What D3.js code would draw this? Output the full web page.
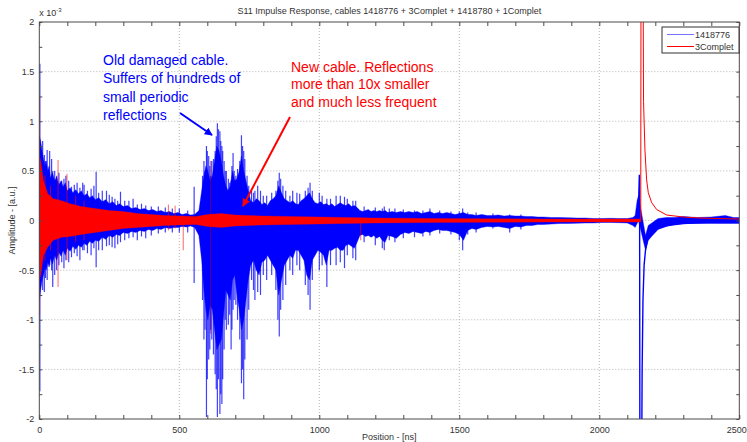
<!DOCTYPE html>
<html>
<head>
<meta charset="utf-8">
<script src="https://cdn.jsdelivr.net/npm/d3@7"></script>
<style>
  html, body { margin: 0; padding: 0; background: #fff; }
  svg { display: block; font-family: "Liberation Sans", Arial, sans-serif; }
</style>
</head>
<body>
<div id="chart"></div>
<script>
// values in units of 1e-3, time in ns; envelope of the dense blue trace
const blueT  = [0, 5, 10, 15, 20, 25, 30, 35, 40, 47, 55, 62, 70, 78, 85, 93, 100, 110, 120, 130, 140, 150, 160, 170, 180, 190, 200, 212, 225, 237, 250, 262, 275, 287, 300, 315, 330, 345, 360, 375, 390, 405, 420, 435, 450, 465, 480, 495, 510, 525, 540, 555, 570,
  580, 588, 595, 602, 610, 618, 626, 634, 642, 650, 658, 666, 674, 682, 690, 698, 706, 714, 722, 730, 738, 746, 755, 765, 775, 785, 795, 805, 815, 825, 835, 845, 855, 865, 875, 885, 895, 905, 915, 925, 935, 945, 955, 965, 975, 985, 995, 1005, 1015, 1025, 1035, 1045, 1055, 1065, 1075, 1085, 1095, 1105, 1115, 1125, 1135,
  1145, 1155, 1165, 1175, 1185, 1195, 1205, 1215, 1225, 1235, 1245, 1260, 1275, 1290, 1305, 1320, 1335, 1350, 1365, 1380, 1395, 1410, 1425, 1440, 1455, 1470, 1485, 1500, 1515, 1530, 1545, 1560, 1580, 1600, 1620, 1640, 1660, 1680, 1700, 1720, 1740, 1760, 1780, 1800, 1830, 1860, 1890, 1920, 1950, 1980, 2010, 2040, 2070, 2100, 2120, 2128, 2135, 2140,
  2165, 2175, 2190, 2210, 2240, 2270, 2300, 2350, 2400, 2450, 2480, 2500];
const blueHi = [0.85, 0.8, 0.7, 0.62, 0.55, 0.6, 0.5, 0.55, 0.43, 0.48, 0.4, 0.44, 0.36, 0.4, 0.34, 0.38, 0.3, 0.33, 0.28, 0.31, 0.27, 0.3, 0.25, 0.27, 0.23, 0.25, 0.21, 0.23, 0.19, 0.21, 0.17, 0.19, 0.15, 0.17, 0.14, 0.15, 0.12, 0.13, 0.11, 0.12, 0.1, 0.11, 0.09, 0.1, 0.08, 0.09, 0.07, 0.08, 0.06, 0.07, 0.055, 0.06, 0.1,
  0.3, 0.45, 0.55, 0.5, 0.4, 0.45, 0.6, 0.75, 0.7, 0.6, 0.45, 0.35, 0.3, 0.35, 0.5, 0.4, 0.42, 0.5, 0.65, 0.5, 0.4, 0.3, 0.2, 0.18, 0.22, 0.2, 0.16, 0.18, 0.15, 0.2, 0.22, 0.25, 0.35, 0.28, 0.22, 0.2, 0.18, 0.2, 0.17, 0.16, 0.2, 0.22, 0.25, 0.28, 0.22, 0.18, 0.17, 0.19, 0.16, 0.17, 0.15, 0.17, 0.14, 0.16, 0.18, 0.16, 0.15, 0.17, 0.14, 0.15, 0.13,
  0.1, 0.09, 0.1, 0.11, 0.09, 0.1, 0.09, 0.1, 0.09, 0.1, 0.08, 0.09, 0.08, 0.09, 0.08, 0.09, 0.08, 0.09, 0.07, 0.08, 0.09, 0.07, 0.08, 0.07, 0.08, 0.07, 0.06, 0.07, 0.08, 0.06, 0.06, 0.05, 0.06, 0.05, 0.05, 0.055, 0.045, 0.05, 0.045, 0.045, 0.04, 0.04, 0.035, 0.035, 0.03, 0.03, 0.028, 0.025, 0.025, 0.02, 0.02, 0.022, 0.02, 0.02, 0.03, 0.05, 0.2, 0.25,
  -0.15, -0.05, -0.02, 0.02, 0.03, 0.03, 0.04, 0.03, 0.035, 0.05, 0.03, 0.03];
const blueLo = [-0.8, -0.7, -0.6, -0.55, -0.48, -0.5, -0.42, -0.47, -0.38, -0.44, -0.35, -0.4, -0.32, -0.36, -0.3, -0.35, -0.28, -0.31, -0.26, -0.29, -0.25, -0.27, -0.23, -0.25, -0.21, -0.23, -0.2, -0.21, -0.17, -0.19, -0.15, -0.17, -0.14, -0.15, -0.12, -0.13, -0.11, -0.12, -0.1, -0.11, -0.09, -0.1, -0.08, -0.09, -0.07, -0.08, -0.07, -0.07, -0.06, -0.065, -0.055, -0.07, -0.15,
  -0.4, -0.7, -0.9, -1.0, -0.85, -0.9, -1.1, -1.3, -1.25, -1.2, -0.95, -0.7, -0.75, -0.8, -0.6, -0.55, -0.75, -0.9, -1.1, -1.0, -0.8, -0.6, -0.45, -0.4, -0.5, -0.55, -0.42, -0.4, -0.35, -0.4, -0.45, -0.5, -0.75, -0.6, -0.45, -0.4, -0.35, -0.38, -0.3, -0.3, -0.35, -0.4, -0.55, -0.6, -0.4, -0.35, -0.3, -0.32, -0.35, -0.45, -0.3, -0.3, -0.28, -0.27, -0.3, -0.3, -0.25, -0.24, -0.26, -0.28, -0.22,
  -0.15, -0.14, -0.16, -0.15, -0.17, -0.15, -0.18, -0.16, -0.2, -0.22, -0.15, -0.16, -0.18, -0.14, -0.12, -0.13, -0.11, -0.12, -0.13, -0.11, -0.12, -0.1, -0.09, -0.1, -0.1, -0.11, -0.12, -0.14, -0.2, -0.1, -0.08, -0.09, -0.07, -0.06, -0.065, -0.06, -0.07, -0.08, -0.06, -0.065, -0.05, -0.05, -0.04, -0.04, -0.035, -0.03, -0.03, -0.028, -0.025, -0.025, -0.02, -0.02, -0.022, -0.025, -0.05, -0.07, -0.03, 0,
  -0.3, -0.2, -0.15, -0.09, -0.06, -0.04, -0.03, -0.03, -0.03, -0.03, -0.03, -0.03];

// single reflections of the blue trace sticking out of the envelope: [t, top, bottom]
const blueSpikes = [[2, 1.58, -1.72], [12, 0.8, -0.7], [18, 0.66, -0.72], [22, 0.6, -0.58], [28, 0.71, -0.6], [37, 0.7, -0.45], [44, 0.62, -0.5], [48, 0.5, -0.67], [55, 0.5, -0.55], [62, 0.45, -0.5], [70, 0.48, -0.45], [80, 0.4, -0.42], [88, 0.42, -0.48], [95, 0.45, -0.4], [105, 0.4, -0.42], [115, 0.34, -0.37], [125, 0.36, -0.33], [135, 0.38, -0.36], [145, 0.33, -0.4], [155, 0.38, -0.3], [160, 0.36, -0.3], [172, 0.3, -0.33], [185, 0.32, -0.35], [195, 0.35, -0.28], [203, 0.49, -0.47], [212, 0.28, -0.3], [225, 0.3, -0.3], [240, 0.3, -0.26], [250, 0.26, -0.25], [260, 0.24, -0.27], [270, 0.22, -0.28], [280, 0.2, -0.24], [290, 0.29, -0.22], [305, 0.2, -0.2], [320, 0.2, -0.18], [335, 0.22, -0.17], [350, 0.16, -0.2], [365, 0.17, -0.16], [380, 0.15, -0.18], [400, 0.14, -0.15], [425, 0.14, -0.13], [450, 0.13, -0.12], [475, 0.12, -0.12], [500, 0.12, -0.12], [530, 0.1, -0.12], [553, 0.34, -0.63],
  [583, 0.45, -0.8], [588, 0.6, -1.2], [592, 0.5, -1.1], [597, 0.75, -1.98], [600, 0.7, -1.6], [605, 0.65, -1.4], [609, 0.55, -1.3], [612, 0.45, -1.1], [616, 0.6, -1.2], [622, 0.62, -1.35], [628, 0.7, -1.55], [632, 0.85, -1.7], [636, 0.98, -1.98], [640, 0.92, -1.6], [645, 0.9, -1.95], [648, 0.8, -1.75], [652, 0.75, -1.85], [655, 0.7, -1.6], [660, 0.6, -1.3], [664, 0.5, -1.0], [668, 0.5, -1.1], [675, 0.42, -1.05], [680, 0.38, -0.95], [685, 0.4, -1.3], [688, 0.55, -1.1], [692, 0.68, -0.9], [696, 0.5, -0.8], [702, 0.45, -0.85], [708, 0.52, -1.0], [716, 0.6, -1.2], [722, 0.86, -1.64], [726, 0.75, -1.5], [730, 0.7, -1.8], [734, 0.62, -1.4], [742, 0.45, -1.2], [748, 0.35, -0.9], [758, 0.3, -0.6], [765, 0.28, -0.7], [770, 0.3, -0.8], [780, 0.35, -0.72], [790, 0.3, -0.75], [800, 0.25, -0.55], [812, 0.25, -0.6], [830, 0.28, -0.55], [845, 0.3, -0.7], [852, 0.4, -1.0], [857, 0.48, -1.17], [862, 0.42, -0.9], [870, 0.35, -0.8], [880, 0.3, -0.65], [895, 0.25, -0.5], [905, 0.3, -0.55], [920, 0.28, -0.45], [930, 0.27, -0.5], [950, 0.3, -0.65], [960, 0.33, -0.75], [967, 0.38, -0.9], [975, 0.3, -0.6], [1000, 0.28, -0.5], [1010, 0.25, -0.45], [1027, 0.22, -0.67], [1040, 0.22, -0.45], [1060, 0.25, -0.45], [1075, 0.25, -0.42], [1090, 0.24, -0.48], [1100, 0.22, -0.35], [1120, 0.2, -0.38], [1130, 0.2, -0.4],
  [1160, 0.14, -0.22], [1200, 0.13, -0.25], [1225, 0.12, -0.28], [1232, 0.14, -0.3], [1250, 0.12, -0.2], [1270, 0.12, -0.22], [1300, 0.11, -0.18], [1340, 0.1, -0.17], [1370, 0.1, -0.16], [1395, 0.12, -0.15], [1430, 0.1, -0.13], [1470, 0.09, -0.14], [1500, 0.09, -0.2], [1512, 0.12, -0.3], [1530, 0.08, -0.14], [1560, 0.08, -0.12], [1620, 0.07, -0.08], [1680, 0.06, -0.12], [1720, 0.06, -0.09]];

// blue step at the cable end
const blueStepT = [2130, 2137, 2141, 2143, 2144, 2145, 2151, 2153, 2156, 2160, 2165, 2172, 2185, 2205, 2240, 2300, 2400, 2500];
const blueStepV = [0.02, 0.1, 0.25, 0.46, 0.1, -2.6, -2.6, -1.5, -0.8, -0.45, -0.3, -0.2, -0.13, -0.08, -0.05, -0.03, -0.015, -0.005];

const redT  = [0, 5, 15, 30, 50, 80, 110, 150, 200, 250, 300, 350, 400, 450, 500, 560, 600, 650, 700, 800, 900, 1000, 1100, 1200, 1400, 1600, 1800, 2000, 2148];
const redHi = [0.65, 0.6, 0.4, 0.27, 0.22, 0.2, 0.17, 0.14, 0.12, 0.1, 0.09, 0.07, 0.06, 0.05, 0.045, 0.04, 0.06, 0.07, 0.055, 0.045, 0.04, 0.035, 0.03, 0.025, 0.02, 0.018, 0.016, 0.015, 0.015];
const redLo = [-0.6, -0.55, -0.35, -0.27, -0.2, -0.17, -0.16, -0.14, -0.12, -0.1, -0.08, -0.07, -0.06, -0.05, -0.045, -0.04, -0.06, -0.07, -0.055, -0.045, -0.04, -0.035, -0.03, -0.025, -0.02, -0.018, -0.016, -0.015, -0.015];

const redSpikes = [[1, 1.25, -0.95], [20, 0.45, -0.4], [40, 0.35, -0.3], [67, 0.61, -0.67], [99, 0.47, -0.4], [130, 0.25, -0.22], [160, 0.2, -0.2], [461, 0.16, -0.1], [485, 0.15, -0.08], [514, 0.05, -0.3], [1148, 0.03, -0.2]];
// thin red reflection hidden inside the blue burst
const redBurstSpike = [[612, 0.6, -1.14]];

const redStepT = [2148, 2149, 2156, 2157, 2158, 2163, 2169, 2175, 2187, 2205, 2241, 2300, 2360, 2420, 2500];
const redStepV = [0.015, 2.6, 2.6, 2.0, 1.2, 0.71, 0.41, 0.28, 0.18, 0.11, 0.055, 0.035, 0.025, 0.02, 0.015];

const xTicks = d3.range(0, 2501, 100);
const yTicks = d3.range(-2, 2.01, 0.25);
const xLabelTicks = [0, 500, 1000, 1500, 2000, 2500];
const yLabelTicks = [-2, -1.5, -1, -0.5, 0, 0.5, 1, 1.5, 2];
const seriesNames = ["1418776", "3Complet"];

const W = 747, H = 442;
const M = { left: 39.3, right: 739.3, top: 22, bottom: 419 };
const BLUE = "#0000ff", RED = "#ff0000", AXIS = "#4a4a4a";

const x = d3.scaleLinear().domain([0, 2500]).range([M.left, M.right]);
const y = d3.scaleLinear().domain([-2, 2]).range([M.bottom, M.top]);

const svg = d3.select("#chart").append("svg").attr("width", W).attr("height", H);

svg.append("defs").append("clipPath").attr("id", "plotClip")
  .append("rect").attr("x", M.left).attr("y", M.top)
  .attr("width", M.right - M.left).attr("height", M.bottom - M.top);

// grid
const grid = svg.append("g").attr("stroke", "#b5b5b5").attr("stroke-dasharray", "1,2").attr("stroke-width", 1);
grid.selectAll(".gx").data(xLabelTicks.slice(1, -1)).join("line")
  .attr("x1", d => x(d)).attr("x2", d => x(d)).attr("y1", M.top).attr("y2", M.bottom);
grid.selectAll(".gy").data(yLabelTicks.slice(1, -1)).join("line")
  .attr("x1", M.left).attr("x2", M.right).attr("y1", d => y(d)).attr("y2", d => y(d));

// data
const plot = svg.append("g").attr("clip-path", "url(#plotClip)");
const toRows = (t, hi, lo) => t.map((v, i) => ({ t: v, hi: hi[i], lo: lo[i] }));
const area = d3.area().x(d => x(d.t)).y0(d => y(d.lo)).y1(d => y(d.hi));
const line = d3.line().x(d => x(d[0])).y(d => y(d[1]));

const drawSpikes = (data, color, width, opacity) =>
  plot.append("g").selectAll("line").data(data).join("line")
    .attr("x1", d => x(d[0])).attr("x2", d => x(d[0]))
    .attr("y1", d => y(d[1])).attr("y2", d => y(d[2]))
    .attr("stroke", color).attr("stroke-width", width).attr("stroke-opacity", opacity);

drawSpikes(blueSpikes, BLUE, 1.2, 0.75);
plot.append("path").datum(toRows(blueT, blueHi, blueLo))
  .attr("d", area).attr("fill", BLUE).attr("stroke", BLUE).attr("stroke-width", 0.8).attr("stroke-opacity", 0.5);
plot.append("path").datum(d3.zip(blueStepT, blueStepV))
  .attr("d", line).attr("fill", "none").attr("stroke", BLUE).attr("stroke-width", 1.4);

drawSpikes(redSpikes, RED, 1, 0.6);
drawSpikes(redBurstSpike, "#a00030", 0.7, 0.8);
plot.append("path").datum(toRows(redT, redHi, redLo))
  .attr("d", area).attr("fill", RED).attr("stroke", RED).attr("stroke-width", 0.6).attr("stroke-opacity", 0.5);
plot.append("path").datum(d3.zip(redStepT, redStepV))
  .attr("d", line).attr("fill", "none").attr("stroke", RED).attr("stroke-width", 1);

// axes (ticks pointing inward)
const fmtX = d => xLabelTicks.includes(d) ? String(d) : "";
const fmtY = d => yLabelTicks.some(v => Math.abs(v - d) < 1e-9) ? String(+d.toFixed(2)) : "";
const styleAxis = g => {
  g.select(".domain").remove();
  g.selectAll(".tick line").attr("stroke", AXIS);
  g.selectAll(".tick text").attr("fill", "#333").attr("font-size", 9)
    .attr("font-family", "Liberation Sans, Arial, sans-serif");
};
const xAxisG = svg.append("g").attr("transform", `translate(0,${M.bottom})`)
  .call(d3.axisBottom(x).tickValues(xTicks).tickSize(-4).tickPadding(8).tickFormat(fmtX)).call(styleAxis);
xAxisG.selectAll(".tick text").filter(d => d === 2500).attr("dx", -3);
svg.append("g").attr("transform", `translate(0,${M.top})`)
  .call(d3.axisTop(x).tickValues(xTicks).tickSize(-4).tickFormat("")).call(styleAxis);
svg.append("g").attr("transform", `translate(${M.left},0)`)
  .call(d3.axisLeft(y).tickValues(yTicks).tickSize(-3).tickPadding(5).tickFormat(fmtY)).call(styleAxis);
svg.append("g").attr("transform", `translate(${M.right},0)`)
  .call(d3.axisRight(y).tickValues(yTicks).tickSize(-3).tickFormat("")).call(styleAxis);

svg.append("rect").attr("x", M.left).attr("y", M.top)
  .attr("width", M.right - M.left).attr("height", M.bottom - M.top)
  .attr("fill", "none").attr("stroke", AXIS).attr("stroke-width", 1);

// exponent label
const expo = svg.append("text").attr("x", M.left).attr("y", 16).attr("font-size", 9).attr("fill", "#333");
expo.append("tspan").text("x 10");
expo.append("tspan").attr("dy", -4).attr("font-size", 6).text("-3");

// titles
svg.append("text").attr("x", (M.left + M.right) / 2).attr("y", 14).attr("text-anchor", "middle")
  .attr("font-size", 9).attr("fill", "#333")
  .text("S11 Impulse Response, cables 1418776 + 3Complet + 1418780 + 1Complet");
svg.append("text").attr("x", (M.left + M.right) / 2).attr("y", 440).attr("text-anchor", "middle")
  .attr("font-size", 9).attr("fill", "#333").text("Position - [ns]");
svg.append("text").attr("transform", `translate(15,${(M.top + M.bottom) / 2}) rotate(-90)`)
  .attr("text-anchor", "middle").attr("font-size", 9).attr("fill", "#333").text("Amplitude - [a.u.]");

// legend
const lg = svg.append("g").attr("transform", "translate(662,27)");
lg.append("rect").attr("width", 77).attr("height", 26).attr("fill", "#fff")
  .attr("stroke", "#333").attr("stroke-width", 1);
seriesNames.forEach((name, i) => {
  const yy = 7.5 + i * 12;
  lg.append("line").attr("x1", 5).attr("x2", 32).attr("y1", yy).attr("y2", yy)
    .attr("stroke", i ? RED : BLUE).attr("stroke-width", 1).attr("stroke-opacity", i ? 1 : 0.55);
  lg.append("text").attr("x", 33).attr("y", yy + 3).attr("font-size", 9).attr("fill", "#333").text(name);
});

// annotations
const defs = svg.select("defs");
[["arrowBlue", BLUE], ["arrowRed", RED]].forEach(([id, c]) => {
  defs.append("marker").attr("id", id).attr("viewBox", "0 -5 10 10")
    .attr("refX", 9).attr("refY", 0).attr("markerWidth", 4).attr("markerHeight", 4)
    .attr("markerUnits", "strokeWidth").attr("orient", "auto")
    .append("path").attr("d", "M0,-5L10,0L0,5Z").attr("fill", c);
});

const noteBlue = ["Old damaged cable.", "Suffers of hundreds of", "small periodic", "reflections"];
const noteRed = ["New cable. Reflections", "more than 10x smaller", "and much less frequent"];

svg.append("g").selectAll("text").data(noteBlue).join("text")
  .attr("x", 103).attr("y", (d, i) => 65 + i * 18.4)
  .attr("font-size", 14).attr("fill", BLUE).text(d => d);
svg.append("g").selectAll("text").data(noteRed).join("text")
  .attr("x", 291).attr("y", (d, i) => 71.5 + i * 17.7)
  .attr("font-size", 14).attr("fill", RED).text(d => d);

svg.append("line").attr("x1", 180).attr("y1", 113).attr("x2", 212).attr("y2", 135)
  .attr("stroke", BLUE).attr("stroke-width", 2).attr("marker-end", "url(#arrowBlue)");
svg.append("line").attr("x1", 290).attr("y1", 117).attr("x2", 243).attr("y2", 206)
  .attr("stroke", RED).attr("stroke-width", 2).attr("marker-end", "url(#arrowRed)");
</script>
</body>
</html>
